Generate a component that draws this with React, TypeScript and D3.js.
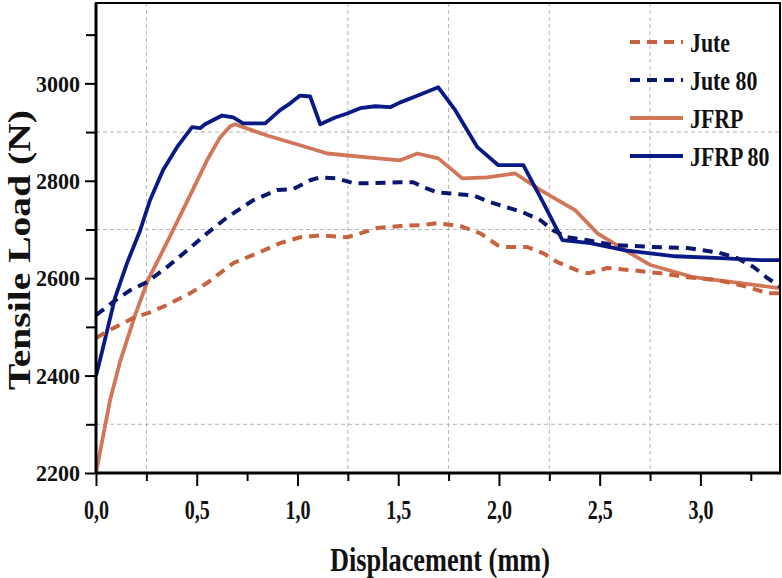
import React, { useRef, useEffect } from 'react'
import * as d3 from 'd3'

// displacement (mm) / tensile load (N)
const juteX = [0, 0.084, 0.184, 0.268, 0.353, 0.467, 0.551, 0.681, 0.8, 0.914, 1.013, 1.113, 1.247, 1.311, 1.396, 1.51, 1.61, 1.694, 1.808, 1.908, 1.992, 2.042, 2.141, 2.221, 2.29, 2.389, 2.444, 2.538, 2.668, 2.802, 2.936, 3.085, 3.234, 3.333, 3.4]
const juteY = [2477, 2497, 2518, 2530, 2545, 2569, 2590, 2631, 2651, 2672, 2684, 2688, 2684, 2692, 2703, 2707, 2709, 2713, 2707, 2692, 2668, 2664, 2664, 2651, 2633, 2616, 2610, 2621, 2616, 2610, 2602, 2596, 2582, 2569, 2569]

const jute80X = [0, 0.084, 0.169, 0.253, 0.353, 0.452, 0.551, 0.651, 0.78, 0.899, 0.979, 1.063, 1.113, 1.197, 1.277, 1.346, 1.51, 1.575, 1.624, 1.694, 1.873, 1.957, 2.121, 2.206, 2.27, 2.34, 2.439, 2.568, 2.767, 2.936, 3.085, 3.184, 3.264, 3.333, 3.4]
const jute80Y = [2524, 2551, 2575, 2592, 2623, 2657, 2692, 2725, 2760, 2781, 2783, 2801, 2807, 2805, 2795, 2795, 2797, 2797, 2787, 2776, 2770, 2756, 2735, 2719, 2698, 2684, 2678, 2668, 2664, 2662, 2653, 2641, 2623, 2600, 2582]

const jfrpX = [0, 0.07, 0.119, 0.194, 0.258, 0.358, 0.467, 0.551, 0.616, 0.666, 0.69, 0.849, 1.013, 1.148, 1.346, 1.51, 1.595, 1.699, 1.818, 1.942, 2.081, 2.206, 2.38, 2.489, 2.653, 2.752, 2.966, 3.199, 3.4]
const jfrpY = [2200, 2350, 2428, 2524, 2596, 2678, 2770, 2842, 2889, 2912, 2916, 2893, 2873, 2856, 2848, 2842, 2856, 2846, 2805, 2807, 2815, 2781, 2739, 2692, 2651, 2627, 2602, 2590, 2579]

const jfrp80X = [0, 0.02, 0.094, 0.154, 0.219, 0.268, 0.333, 0.402, 0.477, 0.517, 0.541, 0.626, 0.681, 0.73, 0.84, 0.914, 0.964, 1.013, 1.063, 1.113, 1.187, 1.247, 1.311, 1.386, 1.46, 1.51, 1.585, 1.699, 1.783, 1.893, 1.997, 2.121, 2.221, 2.315, 2.454, 2.628, 2.752, 2.876, 3.1, 3.299, 3.4]
const jfrp80Y = [2400, 2432, 2559, 2631, 2698, 2760, 2822, 2869, 2910, 2908, 2916, 2934, 2930, 2918, 2918, 2945, 2959, 2975, 2973, 2916, 2930, 2938, 2949, 2953, 2951, 2961, 2973, 2992, 2945, 2869, 2832, 2832, 2754, 2678, 2672, 2657, 2651, 2645, 2641, 2637, 2637]

const seriesNames = ['Jute', 'Jute 80', 'JFRP', 'JFRP 80']
const seriesColors = ['#c6623d', '#0b176f', '#d27658', '#0a1a84']
const seriesDash = ['10,7', '10,7', null, null]

const xMajor = [0, 0.5, 1, 1.5, 2, 2.5, 3]
const xMinor = [0.25, 0.75, 1.25, 1.75, 2.25, 2.75, 3.25]
const yMajor = [2200, 2400, 2600, 2800, 3000]
const yMinor = [2300, 2500, 2700, 2900, 3100]
const gridX = [0.25, 1.25, 1.75, 2.25, 2.75]
const gridY = [2300, 2700, 2900]

const width = 782
const height = 578
const marginTop = 3
const marginBottom = 105
const marginLeft = 96
const marginRight = 1
const font = '"Liberation Serif", "Times New Roman", serif'

export default function App() {
    const svgRef = useRef(null)

    useEffect(() => {
        const svg = d3.select(svgRef.current)
        svg.selectAll('*').remove()

        const x = d3.scaleLinear().domain([0, 3.4]).range([marginLeft, width - marginRight])
        const y = d3.scaleLinear().domain([2200, 3165]).range([height - marginBottom, marginTop])

        const comma = d3.formatLocale({ decimal: ',', thousands: '.', grouping: [3], currency: ['', ''] }).format('.1f')

        // grid
        svg.append('g')
            .selectAll('line')
            .data(gridX)
            .join('line')
            .attr('x1', d => x(d)).attr('x2', d => x(d))
            .attr('y1', marginTop).attr('y2', height - marginBottom)
            .attr('stroke', '#b4b4b4').attr('stroke-width', 1).attr('stroke-dasharray', '4,3')
        svg.append('g')
            .selectAll('line')
            .data(gridY)
            .join('line')
            .attr('y1', d => y(d)).attr('y2', d => y(d))
            .attr('x1', marginLeft).attr('x2', width - marginRight)
            .attr('stroke', '#b4b4b4').attr('stroke-width', 1).attr('stroke-dasharray', '4,3')

        svg.append('clipPath').attr('id', 'plot-area')
            .append('rect')
            .attr('x', marginLeft).attr('y', marginTop)
            .attr('width', width - marginLeft - marginRight)
            .attr('height', height - marginTop - marginBottom)

        const line = d3.line().x(d => x(d[0])).y(d => y(d[1]))
        const allX = [juteX, jute80X, jfrpX, jfrp80X]
        const allY = [juteY, jute80Y, jfrpY, jfrp80Y]

        const curves = svg.append('g').attr('clip-path', 'url(#plot-area)')
        // solid ones first, dashed on top like the reference
        ;[2, 3, 0, 1].forEach(i => {
            const pts = allX[i].map((v, k) => [v, allY[i][k]])
            curves.append('path')
                .attr('d', line(pts))
                .attr('fill', 'none')
                .attr('stroke', seriesColors[i])
                .attr('stroke-width', seriesDash[i] ? 4 : 3.8)
                .attr('stroke-linejoin', 'round')
                .attr('stroke-dasharray', seriesDash[i])
        })

        // frame
        svg.append('rect')
            .attr('x', marginLeft).attr('y', marginTop)
            .attr('width', width - marginLeft - marginRight - 1)
            .attr('height', height - marginTop - marginBottom)
            .attr('fill', 'none').attr('stroke', 'black').attr('stroke-width', 2)

        // x axis
        const xAxisMinor = svg.append('g')
            .attr('transform', `translate(0,${height - marginBottom})`)
            .call(d3.axisBottom(x).tickValues(xMinor).tickSize(8).tickFormat(() => ''))
        xAxisMinor.select('.domain').remove()
        xAxisMinor.selectAll('line').attr('stroke-width', 2)

        const xAxis = svg.append('g')
            .attr('transform', `translate(0,${height - marginBottom})`)
            .call(d3.axisBottom(x).tickValues(xMajor).tickSize(13).tickPadding(14).tickFormat(d => comma(d)))
        xAxis.select('.domain').attr('stroke-width', 3).attr('d', `M${marginLeft},0H${width - marginRight}`)
        xAxis.selectAll('line').attr('stroke-width', 2)
        xAxis.selectAll('text')
            .attr('font-family', font).attr('font-weight', 'bold').attr('font-size', 27)
            .attr('fill', '#111')
            .attr('textLength', 25).attr('lengthAdjust', 'spacingAndGlyphs')

        // y axis
        const yAxisMinor = svg.append('g')
            .attr('transform', `translate(${marginLeft},0)`)
            .call(d3.axisLeft(y).tickValues(yMinor).tickSize(10).tickFormat(() => ''))
        yAxisMinor.select('.domain').remove()
        yAxisMinor.selectAll('line').attr('stroke-width', 2)

        const yAxis = svg.append('g')
            .attr('transform', `translate(${marginLeft},0)`)
            .call(d3.axisLeft(y).tickValues(yMajor).tickSize(11).tickPadding(5).tickFormat(d3.format('d')))
        yAxis.select('.domain').attr('stroke-width', 3).attr('d', `M0,${height - marginBottom}V${marginTop}`)
        yAxis.selectAll('line').attr('stroke-width', 2)
        yAxis.selectAll('text')
            .attr('font-family', font).attr('font-weight', 'bold').attr('font-size', 24)
            .attr('fill', '#111')
            .attr('textLength', 44).attr('lengthAdjust', 'spacingAndGlyphs')

        // axis titles
        svg.append('text')
            .attr('x', 440).attr('y', 571)
            .attr('text-anchor', 'middle')
            .attr('font-family', font).attr('font-weight', 'bold').attr('font-size', 33)
            .attr('fill', '#111')
            .attr('textLength', 220).attr('lengthAdjust', 'spacingAndGlyphs')
            .text('Displacement (mm)')
        svg.append('text')
            .attr('transform', 'translate(30,250) rotate(-90)')
            .attr('text-anchor', 'middle')
            .attr('font-family', font).attr('font-weight', 'bold').attr('font-size', 32)
            .attr('fill', '#111')
            .attr('textLength', 280).attr('lengthAdjust', 'spacingAndGlyphs')
            .text('Tensile Load (N)')

        // legend (condensed glyphs through a horizontal scale)
        const legend = svg.append('g')
            .selectAll('g')
            .data(seriesNames)
            .join('g')
            .attr('transform', (d, i) => `translate(630,${42 + i * 38})`)
        legend.append('line')
            .attr('x1', 0).attr('x2', 53)
            .attr('stroke', (d, i) => seriesColors[i])
            .attr('stroke-width', 4)
            .attr('stroke-dasharray', (d, i) => seriesDash[i])
        legend.append('text')
            .attr('transform', 'translate(60,10) scale(0.78,1)')
            .attr('font-family', font).attr('font-weight', 'bold').attr('font-size', 28)
            .attr('fill', '#111')
            .text(d => d)
    }, [])

    return (
        <svg ref={svgRef} width={width} height={height}
            style={{ position: 'absolute', left: 0, top: 0, background: 'white' }} />
    )
}
